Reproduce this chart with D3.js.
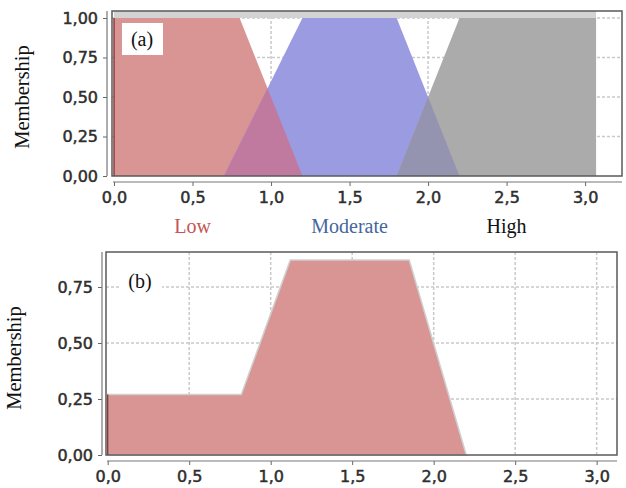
<!DOCTYPE html>
<html lang="en">
<head>
<meta charset="UTF-8">
<title>Membership functions</title>
<style>
  body { margin: 0; background: #fff; }
  svg { display: block; }
</style>
</head>
<body>
<script src="https://d3js.org/d3.v7.min.js"></script>
<div id="chart"></div>
<script>
// tick values
const xTicks = [0, 0.5, 1, 1.5, 2, 2.5, 3];
const yTicksA = [0, 0.25, 0.5, 0.75, 1];
const yTicksB = [0, 0.25, 0.5, 0.75];

// membership functions (x, mu)
const lowMF = [[0, 0], [0, 1], [0.8, 1], [1.2, 0]];
const moderateMF = [[0.7, 0], [1.2, 1], [1.8, 1], [2.2, 0]];
const highMF = [[1.8, 0], [2.2, 1], [3.07, 1], [3.07, 0]];
const outputMF = [[0, 0], [0, 0.27], [0.82, 0.27], [1.12, 0.87], [1.85, 0.87], [2.2, 0]];

const legendNames = ["Low", "Moderate", "High"];
const legendAt = [0.5, 1.5, 2.5];
const legendColors = ["#c55555", "#44679c", "#111"];

const topBand = [0, 3.07]; // grey strip above mu = 1 in panel (a)

const W = 626, H = 488;
const svg = d3.select("#chart").append("svg")
  .attr("width", W).attr("height", H);

const fmtX = d => d3.format(".1f")(d).replace(".", ",");
const fmtY = d => d3.format(".2f")(d).replace(".", ",");

// panel geometry
const panels = [
  { id: "a", xRange: [114, 622], xMax: 3.235, y0: 176, y1: 18,
    frame: { l: 112, t: 11, r: 622, b: 176 }, yAxisX: 107, xAxisY: 182,
    yTicks: yTicksA, tag: "(a)", tagBox: [122, 23, 41, 32], tagPos: [142, 46],
    label: [29, 97] },
  { id: "b", xRange: [107.7, 616.7], xMax: 3.123, y0: 455, y1: 231,
    frame: { l: 106, t: 252, r: 617, b: 455 }, yAxisX: 102, xAxisY: 461,
    yTicks: yTicksB, tag: "(b)", tagBox: [120, 263, 42, 32], tagPos: [140, 288],
    label: [21, 358] }
];

panels.forEach(p => {
  const x = d3.scaleLinear().domain([0, p.xMax]).range(p.xRange);
  const y = d3.scaleLinear().domain([0, 1]).range([p.y0, p.y1]);
  const g = svg.append("g");
  const f = p.frame;

  // grid
  g.append("g").selectAll("line.v").data(xTicks.filter(d => d > 0)).join("line")
    .attr("x1", d => x(d)).attr("x2", d => x(d))
    .attr("y1", f.t).attr("y2", f.b)
    .attr("stroke", "#c9c9c9").attr("stroke-width", 1.5).attr("stroke-dasharray", "3,2");
  g.append("g").selectAll("line.h").data(p.yTicks.filter(d => d > 0)).join("line")
    .attr("x1", f.l).attr("x2", f.r)
    .attr("y1", d => y(d)).attr("y2", d => y(d))
    .attr("stroke", "#c9c9c9").attr("stroke-width", 1.5).attr("stroke-dasharray", "3,2");

  const area = d3.area().x(d => x(d[0])).y0(y(0)).y1(d => y(d[1]));

  if (p.id === "a") {
    g.append("rect")
      .attr("x", x(topBand[0])).attr("y", f.t)
      .attr("width", x(topBand[1]) - x(topBand[0])).attr("height", y(1) - f.t)
      .attr("fill", "#d3d3d3");

    const defs = svg.append("defs");
    defs.append("clipPath").attr("id", "clipMod").append("path").attr("d", area(moderateMF));
    defs.append("clipPath").attr("id", "clipHigh").append("path").attr("d", area(highMF));

    g.append("path").attr("d", area(lowMF)).attr("fill", "#d99494");
    g.append("path").attr("d", area(moderateMF)).attr("fill", "#9b9be2");
    g.append("path").attr("d", area(highMF)).attr("fill", "#ababab");
    g.append("path").attr("d", area(lowMF)).attr("fill", "#c07aa0")
      .attr("clip-path", "url(#clipMod)");
    g.append("path").attr("d", area(moderateMF)).attr("fill", "#9494b0")
      .attr("clip-path", "url(#clipHigh)");
    g.append("line")
      .attr("x1", x(lowMF[1][0])).attr("x2", x(lowMF[1][0]))
      .attr("y1", y(0)).attr("y2", y(lowMF[1][1]))
      .attr("stroke", "#8a3a3a").attr("stroke-width", 1.5);

    // legend
    g.selectAll("text.leg").data(legendNames).join("text")
      .attr("x", (d, i) => x(legendAt[i])).attr("y", 233)
      .attr("text-anchor", "middle")
      .attr("font-family", "Liberation Serif, Times New Roman, serif")
      .attr("font-size", 20)
      .attr("fill", (d, i) => legendColors[i])
      .text(d => d);
  } else {
    g.append("path").attr("d", area(outputMF))
      .attr("fill", "#d99494").attr("stroke", "#cfcfcf").attr("stroke-width", 1.5);
    g.append("line")
      .attr("x1", x(outputMF[1][0])).attr("x2", x(outputMF[1][0]))
      .attr("y1", y(0)).attr("y2", y(outputMF[1][1]))
      .attr("stroke", "#8a3a3a").attr("stroke-width", 1.5);
  }

  // panel tag
  g.append("rect")
    .attr("x", p.tagBox[0]).attr("y", p.tagBox[1])
    .attr("width", p.tagBox[2]).attr("height", p.tagBox[3])
    .attr("fill", "#fff");
  g.append("text")
    .attr("x", p.tagPos[0]).attr("y", p.tagPos[1])
    .attr("text-anchor", "middle")
    .attr("font-family", "Liberation Serif, Times New Roman, serif")
    .attr("font-size", 20).attr("fill", "#111")
    .text(p.tag);

  // frame
  g.append("rect")
    .attr("x", f.l).attr("y", f.t)
    .attr("width", f.r - f.l).attr("height", f.b - f.t)
    .attr("fill", "none").attr("stroke", "#5a5a5a").attr("stroke-width", 1.5);

  // y axis
  const ya = g.append("g")
    .attr("transform", `translate(${p.yAxisX},0)`)
    .call(d3.axisLeft(y).tickValues(p.yTicks).tickSize(4).tickPadding(5).tickFormat(fmtY));
  ya.select(".domain").remove();
  ya.append("line").attr("x1", 0).attr("x2", 0).attr("y1", f.t).attr("y2", f.b)
    .attr("stroke", "#777").attr("stroke-width", 1.2);

  // x axis
  const xa = g.append("g")
    .attr("transform", `translate(0,${p.xAxisY})`)
    .call(d3.axisBottom(x).tickValues(xTicks).tickSize(4).tickPadding(6).tickFormat(fmtX));
  xa.select(".domain").remove();
  xa.append("line").attr("x1", f.l + 1).attr("x2", f.r).attr("y1", 0).attr("y2", 0)
    .attr("stroke", "#777").attr("stroke-width", 1.2);

  [ya, xa].forEach(a => {
    a.selectAll(".tick line").attr("stroke", "#666");
    a.selectAll(".tick text")
      .attr("font-family", "DejaVu Sans, Verdana, sans-serif")
      .attr("font-size", 16)
      .attr("fill", "#2e2e2e")
      .attr("stroke", "#2e2e2e")
      .attr("stroke-width", 0.5);
  });

  // y label
  g.append("text")
    .attr("transform", `translate(${p.label[0]},${p.label[1]}) rotate(-90)`)
    .attr("text-anchor", "middle")
    .attr("font-family", "Liberation Serif, Times New Roman, serif")
    .attr("font-size", 20.5).attr("fill", "#111")
    .text("Membership");
});
</script>
</body>
</html>
